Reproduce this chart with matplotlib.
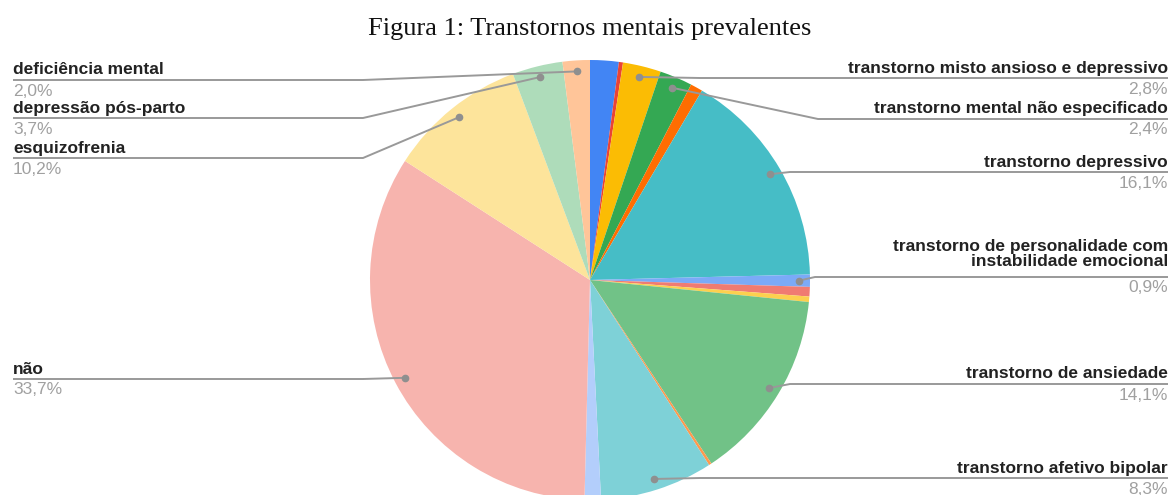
import numpy as np
import matplotlib
matplotlib.use('Agg')
import matplotlib.pyplot as plt

# slices clockwise from 12 o'clock (empty label = slice without a label in the chart)
labels = ['', '', 'transtorno misto ansioso e depressivo', 'transtorno mental não especificado', '',
          'transtorno depressivo', 'transtorno de personalidade com\ninstabilidade emocional', '', '',
          'transtorno de ansiedade', '', 'transtorno afetivo bipolar', '',
          'não', 'esquizofrenia', 'depressão pós-parto', 'deficiência mental']
values = [2.1, 0.3, 2.8, 2.4, 0.9,
          16.1, 0.9, 0.7, 0.4,
          14.1, 0.2, 8.3, 1.2,
          33.7, 10.2, 3.7, 2.0]
colors = ['#4285F4', '#EA4335', '#FBBC04', '#34A853', '#FF6D01', '#46BDC6',
          '#7BAAF7', '#F07B72', '#FCD04F', '#71C287', '#FF994D', '#7ED1D7',
          '#B3CEFB', '#F7B4AE', '#FDE49B', '#AEDCBA', '#FFC599']

# label layout: side, y of the leader line (px from top), x of the elbow (px)
layout = {
    'transtorno misto ansioso e depressivo': ('right', 78, 700),
    'transtorno mental não especificado': ('right', 119, 818),
    'transtorno depressivo': ('right', 172, 790),
    'transtorno de personalidade com\ninstabilidade emocional': ('right', 277, 815),
    'transtorno de ansiedade': ('right', 384, 790),
    'transtorno afetivo bipolar': ('right', 478, 700),
    'não': ('left', 379, 363),
    'esquizofrenia': ('left', 158, 363),
    'depressão pós-parto': ('left', 118, 363),
    'deficiência mental': ('left', 80, 363),
}

W, H = 1173, 495
cx, cy, R = 590, H - 280, 220
x_left, x_right = 13, 1168

fig = plt.figure(figsize=(W / 100, H / 100), dpi=100)
ax = fig.add_axes([0, 0, 1, 1])
wedges, _ = ax.pie(values, colors=colors, startangle=90, counterclock=False,
                   center=(cx, cy), radius=R, wedgeprops=dict(linewidth=0))
ax.set_xlim(0, W)
ax.set_ylim(0, H)
ax.set_aspect('auto')
ax.axis('off')

line_color = '#999999'
for w, lab, v in zip(wedges, labels, values):
    if not lab:
        continue
    mid = np.deg2rad((w.theta1 + w.theta2) / 2)
    dx = cx + 0.95 * R * np.cos(mid)
    dy = cy + 0.95 * R * np.sin(mid)
    side, ly, ex = layout[lab]
    ly = H - ly
    if side == 'left':
        xs, ys = [x_left, ex, dx], [ly, ly, dy]
        tx, ha = x_left, 'left'
    else:
        xs, ys = [dx, ex, x_right], [dy, ly, ly]
        tx, ha = x_right, 'right'
    ax.plot(xs, ys, color=line_color, lw=1.4, solid_capstyle='butt', zorder=3)
    ax.plot(dx, dy, 'o', ms=4.5, color='#8f8f8f', zorder=4)
    off = 8 if '\n' in lab else 2.5
    ax.text(tx, ly + off, lab, ha=ha, va='bottom', fontsize=12.5, fontweight='bold',
            color='#222222', family='Liberation Sans', linespacing=1.0)
    ax.text(tx, ly - 3.5, f'{v:.1f}%'.replace('.', ','), ha=ha, va='top', fontsize=12.5,
            color='#a0a0a0', family='Liberation Sans')

fig.text(590 / W, 1 - 35 / H, 'Figura 1: Transtornos mentais prevalentes', ha='center',
         va='baseline', fontsize=19, family='Liberation Serif', color='#111111')

fig.savefig('out.png', dpi=100, facecolor='white')
